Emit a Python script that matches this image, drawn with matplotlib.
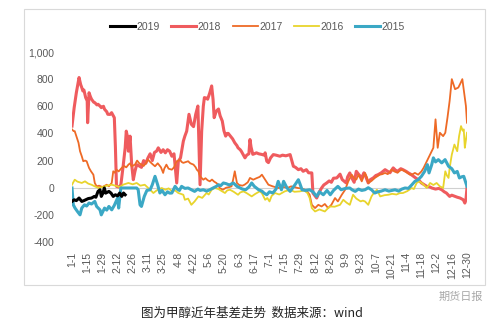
import matplotlib.pyplot as plt
from matplotlib.patches import Rectangle

# day of year (leap-year calendar) and basis values for each year
d2019 = [0, 2, 4, 6.5, 9, 11, 12.6, 15, 18, 20.6, 22, 24, 25.8, 27, 28.5, 29.8, 31, 34, 36, 38, 40, 42, 44, 45.8, 47.5, 49]
v2019 = [-101, -89, -95, -76, -101, -95, -89, -80, -76, -64, -70, -27, -15, -64, -40, -2, -40, -27, -40, -64, -52, -60, -39, -64, -39, -52]

d2018 = [0, 2, 4, 6.5, 8, 9, 10, 11, 12.6, 14, 14.4, 15.7, 17, 18, 20, 21, 23, 24, 26, 27, 29, 30, 32, 33, 35, 36.5, 38, 39,
         40, 41, 43, 45, 47, 49, 50, 51, 52, 53.5, 55, 56.5, 58, 59.6, 62, 64, 66, 68, 70, 72, 74, 76, 78, 79.5, 82, 84, 86,
         88, 90, 92, 94, 96.5, 98, 100, 102.6, 104, 105.7, 107.8, 110, 112, 114, 116, 117, 118, 119.5, 121, 122, 124, 125,
         127, 128.7, 130, 131, 133, 135, 136.5, 138.5, 140, 141.6, 143, 144, 146, 148, 150, 152, 153, 155, 156, 158, 159.4,
         161, 163, 164, 165, 166.6, 168, 170, 172, 175, 177, 178, 179.5, 181, 183, 185.5, 188, 191.6, 194, 197, 201, 204,
         206, 208.6, 211, 213, 216, 218, 221, 222, 224, 225.5, 228, 230, 232, 234.7, 237, 239, 241, 244, 247, 249, 252.7,
         254, 256, 258, 260, 262, 264, 267, 269, 270, 273, 275, 277.6, 280, 282, 285, 288.5, 291, 293, 296, 298, 300, 303,
         305, 308, 310, 312, 314.6, 317, 319, 322, 325, 327, 330, 331.5, 335, 338, 340.7, 343, 345, 348, 350, 353, 355,
         357.6, 360.6, 362, 363, 364]
v2018 = [454, 590, 700, 812, 760, 738, 713, 720, 664, 640, 479, 700, 670, 652, 630, 627, 610, 615, 600, 590, 600, 578, 560, 541,
         540, 553, 530, 516, 300, 10, 5, 20, 150, 294, 417, 380, 269, 380, 170, 59, 120, 170, 160, 150, 200, 180, 220, 250,
         200, 260, 270, 294, 260, 280, 257, 280, 269, 232, 250, 35, 195, 220, 343, 380, 417, 541, 467, 450, 541, 602, 300, 22,
         417, 600, 664, 660, 652, 700, 750, 650, 516, 565, 580, 530, 491, 420, 380, 400, 400, 380, 360, 331, 310, 294, 280,
         269, 240, 220, 240, 250, 355, 300, 246, 250, 257, 250, 245, 240, 257, 195, 185, 220, 244, 240, 232, 240, 235, 244,
         158, 150, 133, 140, 121, 133, 110, 109, -39, -60, -76, -30, -2, 20, 35, 50, 40, 70, 72, 100, 60, 35, 80, 109, 70,
         40, 121, 100, 72, 110, 96, 35, 60, 72, 90, 96, 110, 133, 120, 110, 146, 130, 121, 140, 133, 120, 109, 100, 84, 70,
         60, 35, 20, 10, 5, -2, -10, -5, -15, -30, -39, -64, -55, -64, -70, -76, -89, -113, -90, 0]

d2017 = [0, 1.5, 2.5, 4, 6, 7.4, 9, 10.4, 12, 13.5, 15.7, 17.5, 19.7, 21, 22.7, 25, 28, 32, 34, 36.6, 38, 39.5, 41, 43, 45.8,
         48, 50, 52, 53.5, 55, 58, 60, 62, 64, 66, 68, 70, 72, 74, 76.5, 79, 82, 84, 85, 87, 89, 92, 94, 96.5, 98, 99.5, 101,
         102.6, 105, 107, 109, 112, 114, 115, 116.5, 118, 121, 123, 125, 127, 129, 131, 133, 135, 136, 139, 142, 145, 147,
         148.5, 150, 152, 154, 157, 159, 162, 164, 167, 170, 173, 175, 178, 181, 185, 190, 195, 199, 202, 205, 208, 211,
         214.7, 217, 219, 221, 224, 227, 230, 233, 236, 239, 242.4, 245, 248.6, 251.7, 254.6, 257.8, 260, 262, 264, 267, 270,
         272, 273, 276, 279, 283.6, 286, 288.5, 291, 294.6, 297, 300, 302, 304, 307, 309, 311.5, 314, 316, 319, 322, 324,
         327, 330, 333, 335, 337, 339, 342, 344, 346, 348, 350, 353, 356, 358, 359.7, 362, 363, 364]
v2017 = [430, 417, 417, 380, 331, 269, 232, 195, 200, 195, 146, 121, 96, 35, 10, 15, 5, 22, 10, 35, 121, 110, 133, 120, 146,
         160, 150, 170, 180, 158, 170, 200, 180, 170, 160, 180, 207, 190, 175, 158, 180, 150, 109, 140, 170, 140, 133, 150,
         195, 200, 207, 190, 183, 190, 195, 180, 170, 150, 133, 121, 84, 59, 70, 55, 47, 60, 45, 35, 20, -2, -15, 0, 5, 10,
         60, 121, 35, 20, 15, 22, 40, 72, 59, 70, 80, 96, 59, 22, 10, -2, 5, 0, 10, 5, -2, -5, -15, -30, -52, -126, -150,
         -126, -138, -120, -150, -126, -76, -101, -52, -15, 47, 96, 70, 60, 96, 47, 109, 72, 35, 50, 72, 96, 100, 109, 100,
         133, 120, 110, 125, 133, 120, 110, 96, 100, 109, 96, 120, 146, 195, 244, 294, 504, 294, 405, 380, 405, 516, 640,
         800, 726, 738, 770, 800, 664, 602, 479]

d2016 = [0, 2.5, 5, 9, 12, 15, 18, 21, 24.6, 28, 32, 36.6, 40, 44, 47, 50, 52, 56, 59.6, 63, 67, 70, 72, 75, 78, 82.6, 86, 89,
         92, 95, 98, 102.6, 104, 107, 110, 113, 116.5, 120, 124, 126, 128.7, 131.7, 135, 138, 141, 143, 145.6, 149, 153, 155,
         158, 161, 165.6, 169, 173, 175, 178, 180, 182, 184, 187, 191, 196, 201, 205, 210, 214, 217, 219, 221, 224, 228, 233,
         236, 238, 242, 247, 250, 253, 256, 259, 262, 266, 268, 270, 273, 276, 278, 281, 284, 288, 291.5, 295, 299, 302,
         305, 309, 313, 315, 317.6, 320, 323, 327, 330, 333, 336, 339, 342, 344, 345.5, 347, 348, 350, 352.4, 355, 356.7,
         358.5, 360, 361, 362, 363, 364]
v2016 = [22, 59, 45, 35, 47, 30, 22, 10, -2, 5, 15, 22, 15, 5, 22, 30, 35, 25, 35, 15, 22, 0, -15, -39, -20, -2, -15, -5, -25,
         -20, -39, -52, -89, -80, -126, -101, -64, -75, -39, -50, -15, -2, -10, -25, -39, -20, -15, -30, -52, -35, -27, -40,
         -64, -45, -27, -40, -89, -76, -101, -60, -39, -50, -27, -15, -30, -27, -20, -40, -76, -150, -175, -160, -175, -150,
         -138, -140, -126, -89, -110, -126, -52, -80, -101, -95, -101, -126, -64, -40, -15, -64, -55, -52, -45, -50, -40,
         -39, -25, -2, -10, 35, 47, 30, -2, 35, 20, 35, 10, -2, 121, 90, 72, 146, 244, 318, 269, 380, 454, 420, 430, 294,
         350, 405]

d2015 = [0, 1.2, 2.8, 5, 7.4, 9, 11.5, 13.5, 15.7, 18, 21, 22.7, 25.8, 27, 30, 32, 34, 36.6, 39, 42, 43, 45, 50, 55, 59.6, 61,
         62.7, 64, 66.6, 69, 72, 74, 76.5, 79, 81, 83, 85.7, 88, 90, 92, 95, 97, 99, 101, 104, 107, 110, 113, 116, 118, 121,
         124, 127, 130, 133, 135, 137, 139.5, 142, 145, 148.7, 152, 155, 157, 160, 163, 165.6, 168, 172, 175, 177, 179.5,
         182, 185, 188, 190, 193, 195, 198, 201, 203, 205.5, 208.6, 210, 212, 215, 219, 222, 225.5, 228, 231.6, 235, 238,
         241, 245, 248, 252, 256, 258, 261, 264, 267, 270, 273, 276, 279, 282, 285, 288.5, 292, 295, 297.7, 301, 304, 306.9,
         310, 313, 316, 319, 322, 325, 327.5, 329, 331.5, 333, 335, 337.6, 340.7, 343.8, 347, 350, 352.4, 355, 357, 359,
         361, 363, 364]
v2015 = [-2, -126, -150, -175, -200, -150, -126, -135, -113, -120, -101, -138, -163, -200, -150, -165, -138, -163, -130, -76,
         -150, -2, -2, -2, -2, -15, -126, -138, -64, -20, -15, 22, 84, 20, -39, -20, -52, -30, -40, -39, 10, -10, -20, 10,
         -5, -2, -15, -27, -10, -20, -15, -25, -15, -2, 10, 22, 15, 35, 30, 20, 35, 10, -2, -10, -15, 5, 35, 10, -15, -25,
         -40, -52, -30, -39, -10, 47, -15, 47, 0, -27, -5, 22, 59, 30, -15, -20, -15, -30, -64, -30, -52, -20, -52, -20, 10,
         -15, -5, -2, -15, -27, -10, -20, -15, 0, -15, -39, -30, -25, -15, -25, -20, -15, -25, -10, -2, -5, 20, 47, 59, 84,
         121, 170, 109, 170, 220, 190, 207, 183, 207, 158, 140, 109, 120, 72, 80, 84, 35, 10]

tick_days = list(range(0, 365, 14))
tick_labels = ['1-1', '1-15', '1-29', '2-12', '2-26', '3-11', '3-25', '4-8', '4-22', '5-6', '5-20', '6-3', '6-17',
               '7-1', '7-15', '7-29', '8-12', '8-26', '9-9', '9-23', '10-7', '10-21', '11-4', '11-18', '12-2',
               '12-16', '12-30']
y_ticks = [-400, -200, 0, 200, 400, 600, 800, 1000]

fig = plt.figure(figsize=(5, 3.28), dpi=100)
fig.patches.append(Rectangle((24 / 500, 1 - 285 / 328), 461 / 500, 276 / 328, transform=fig.transFigure,
                             fill=False, edgecolor='#d9d9d9', linewidth=0.8))

ax = fig.add_axes([72 / 500, 1 - 242 / 328, 395 / 500, 190 / 328])
ax.axhline(0, color='#d0d0d0', linewidth=0.8, zorder=1)

l18, = ax.plot(d2018, v2018, color='#ef5b5e', linewidth=2.2, label='2018', zorder=2)
l17, = ax.plot(d2017, v2017, color='#ee6a26', linewidth=1.3, label='2017', zorder=3)
l16, = ax.plot(d2016, v2016, color='#e8d42c', linewidth=1.3, label='2016', zorder=4)
l15, = ax.plot(d2015, v2015, color='#3ba8c5', linewidth=2.2, label='2015', zorder=5)
l19, = ax.plot(d2019, v2019, color='black', linewidth=2.2, label='2019', zorder=6)

ax.set_xlim(0, 364)
ax.set_ylim(-400, 1000)
ax.set_yticks(y_ticks)
ax.set_yticklabels([f'{t:,}' for t in y_ticks])
ax.set_xticks(tick_days)
ax.set_xticklabels(tick_labels, rotation=90)
ax.tick_params(axis='both', length=0, labelsize=7.5, labelcolor='#595959', labelfontfamily='Liberation Sans')
ax.tick_params(axis='y', pad=13)
ax.tick_params(axis='x', pad=7)
for s in ax.spines.values():
    s.set_visible(False)

leg = fig.legend(handles=[l19, l18, l17, l16, l15], loc='center', bbox_to_anchor=(0.515, 1 - 27 / 328), ncol=5,
                 frameon=False, handlelength=2.4, handletextpad=0.15, columnspacing=1.1,
                 prop={'family': 'Liberation Sans', 'size': 7.5})
for t in leg.get_texts():
    t.set_color('#595959')

fig.text(0.503, 1 - 313 / 328, '图为甲醇近年基差走势  数据来源：wind', ha='center', va='center', fontsize=9,
         color='#222222', family=['Noto Sans CJK SC', 'DejaVu Sans'])
fig.text(0.966, 1 - 297 / 328, '期货日报', ha='right', va='center', fontsize=8, color='#a8a8a8',
         family=['Noto Sans CJK SC', 'DejaVu Sans'])

fig.savefig('out.png', dpi=100)
